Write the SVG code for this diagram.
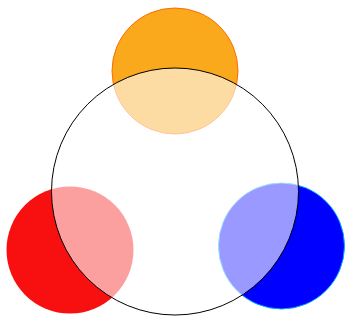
<svg xmlns="http://www.w3.org/2000/svg" width="345" height="320" viewBox="0 0 345 320">
<style>
.big{fill:#fff;fill-opacity:0.6;stroke:#000;stroke-width:1}
</style>
<rect width="345" height="320" fill="#fff"/>
<g id="orange"><circle cx="175" cy="71" r="63" fill="#f9a91b" stroke="#ff6a00" stroke-width="1"/></g>
<g id="red"><circle cx="70" cy="250" r="63.5" fill="#f81010"/></g>
<g id="blue"><circle cx="281.5" cy="246" r="63" fill="#0000ff" stroke="#00aaff" stroke-width="1"/></g>
<g id="center"><circle class="big" cx="175" cy="191.5" r="123.5"/></g>
</svg>
